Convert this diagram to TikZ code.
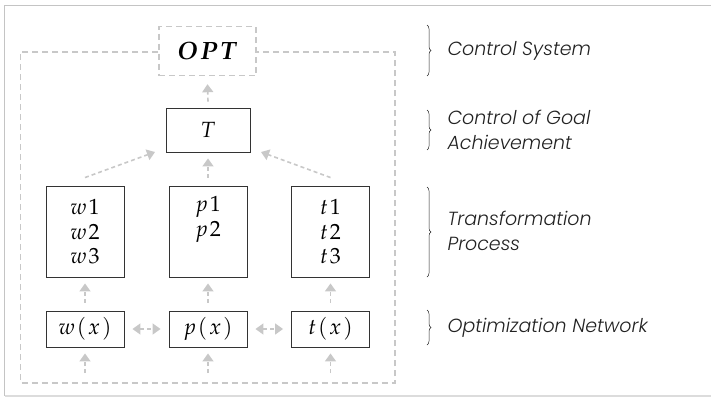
\documentclass[tikz,border=0pt]{standalone}
\usepackage{mathpazo}
\usepackage{bm}
\usepackage{fontspec}
\newfontfamily\sidefont{Poppins}[ItalicFont={* Light Italic}]
\usetikzlibrary{decorations.pathreplacing,arrows.meta}
\definecolor{framegray}{HTML}{C4C4C4}
\definecolor{dashgray}{HTML}{C8C8C8}
\definecolor{boxline}{HTML}{333333}
\definecolor{sidetext}{HTML}{222222}
% loosely spaced math symbols
\newcommand{\ls}{\mkern1.5mu}
\tikzset{
  blk/.style={draw=boxline, line width=0.9pt, inner sep=0pt, align=center, font=\fontsize{22}{24.5}\selectfont},
  flow/.style={draw=dashgray, line width=1.6pt, dash pattern=on 4pt off 3pt, -{Triangle[length=8pt,width=11pt]}},
  bflow/.style={draw=dashgray, line width=1.6pt, dash pattern=on 4pt off 3pt, {Triangle[length=8pt,width=11pt]}-{Triangle[length=8pt,width=11pt]}},
  ring/.style={draw=dashgray, line width=1.4pt, dash pattern=on 6pt off 4pt},
  side/.style={anchor=west, align=left, text=sidetext, font=\sidefont\itshape\fontsize{19}{25}\selectfont},
  brc/.style={draw=sidetext, line width=0.5pt, decorate, decoration={brace, amplitude=4pt}}
}
\begin{document}
\begin{tikzpicture}[x=1pt,y=-1pt]
\useasboundingbox (0,0) rectangle (711,397);
% outer frame
\draw[framegray, line width=1.6pt] (711,5.5) -- (4.5,5.5) -- (4.5,396);
\draw[framegray!60, line width=1.2pt] (4.5,396) -- (711,396);

% control loop (dashed)
\node[ring, minimum width=97pt, minimum height=49pt, font=\fontsize{25}{25}\selectfont] (opt) at (207.5,51) {$\bm{O\ls P\ls T}$};
\coordinate (rl) at (20.5,383);
\coordinate (rr) at (395,383);
\draw[ring] (opt.west |- 0,52) -- (20.5,52) -- (rl) -- (rr) -- (395,52) -- (opt.east |- 0,52);

% goal control
\node[blk, minimum width=84pt, minimum height=44pt] (T) at (208,130) {$T$};

% transformation blocks
\node[blk, minimum width=78pt, minimum height=91pt] (W) at (85,231.5) {$w\ls1$\\$w\ls2$\\$w\ls3$};
\node[blk, minimum width=78pt, minimum height=91pt] (P) at (208,231.5) {$p\ls1$\\$p\ls2$\\\phantom{$p\ls3$}};
\node[blk, minimum width=78pt, minimum height=91pt] (Tt) at (330.5,231.5) {$t\ls1$\\$t\ls2$\\$t\ls3$};

% optimization network
\node[blk, minimum width=78pt, minimum height=36pt] (wx) at (85,329) {$w\ls(\ls x\ls)$};
\node[blk, minimum width=78pt, minimum height=36pt] (px) at (208,329) {$p\ls(\ls x\ls)$};
\node[blk, minimum width=78pt, minimum height=36pt] (tx) at (330.5,329) {$t\ls(\ls x\ls)$};

% inputs at the bottom
\coordinate (iw) at (85,373);
\coordinate (ip) at (208,373);
\coordinate (it) at (330.5,373);
\draw[flow] (iw) -- ([yshift=-6pt]wx.south);
\draw[flow] (ip) -- ([yshift=-6pt]px.south);
\draw[flow] (it) -- ([yshift=-6pt]tx.south);

% network to transformation
\draw[flow] ([yshift=8pt]wx.north) -- ([yshift=-6pt]W.south);
\draw[flow] ([yshift=8pt]px.north) -- ([yshift=-6pt]P.south);
\draw[flow] ([yshift=8pt]tx.north) -- ([yshift=-6pt]Tt.south);

% lateral links
\draw[bflow] ([xshift=8pt]wx.east) -- ([xshift=-8pt]px.west);
\draw[bflow] ([xshift=8pt]px.east) -- ([xshift=-8pt]tx.west);

% transformation to goal control
\draw[flow] ([yshift=8pt]W.north) -- (155,152);
\draw[flow] ([yshift=8pt]P.north) -- ([yshift=-6pt]T.south);
\draw[flow] ([yshift=8pt]Tt.north) -- (261,152);

% goal control to control system
\draw[flow] ([yshift=6pt]T.north) -- ([yshift=-8pt]opt.south);

% level labels
\draw[brc] (427,25) -- (427,76);
\node[side] (l1) at (444,51) {Control System};
\draw[brc] (427,110) -- (427,150);
\node[side] (l2) at (444,130) {Control of Goal\\Achievement};
\draw[brc] (427,187) -- (427,277);
\node[side] (l3) at (444,231) {Transformation\\Process};
\draw[brc] (427,310) -- (427,345);
\node[side] (l4) at (444,328) {Optimization Network};
\end{tikzpicture}
\end{document}
